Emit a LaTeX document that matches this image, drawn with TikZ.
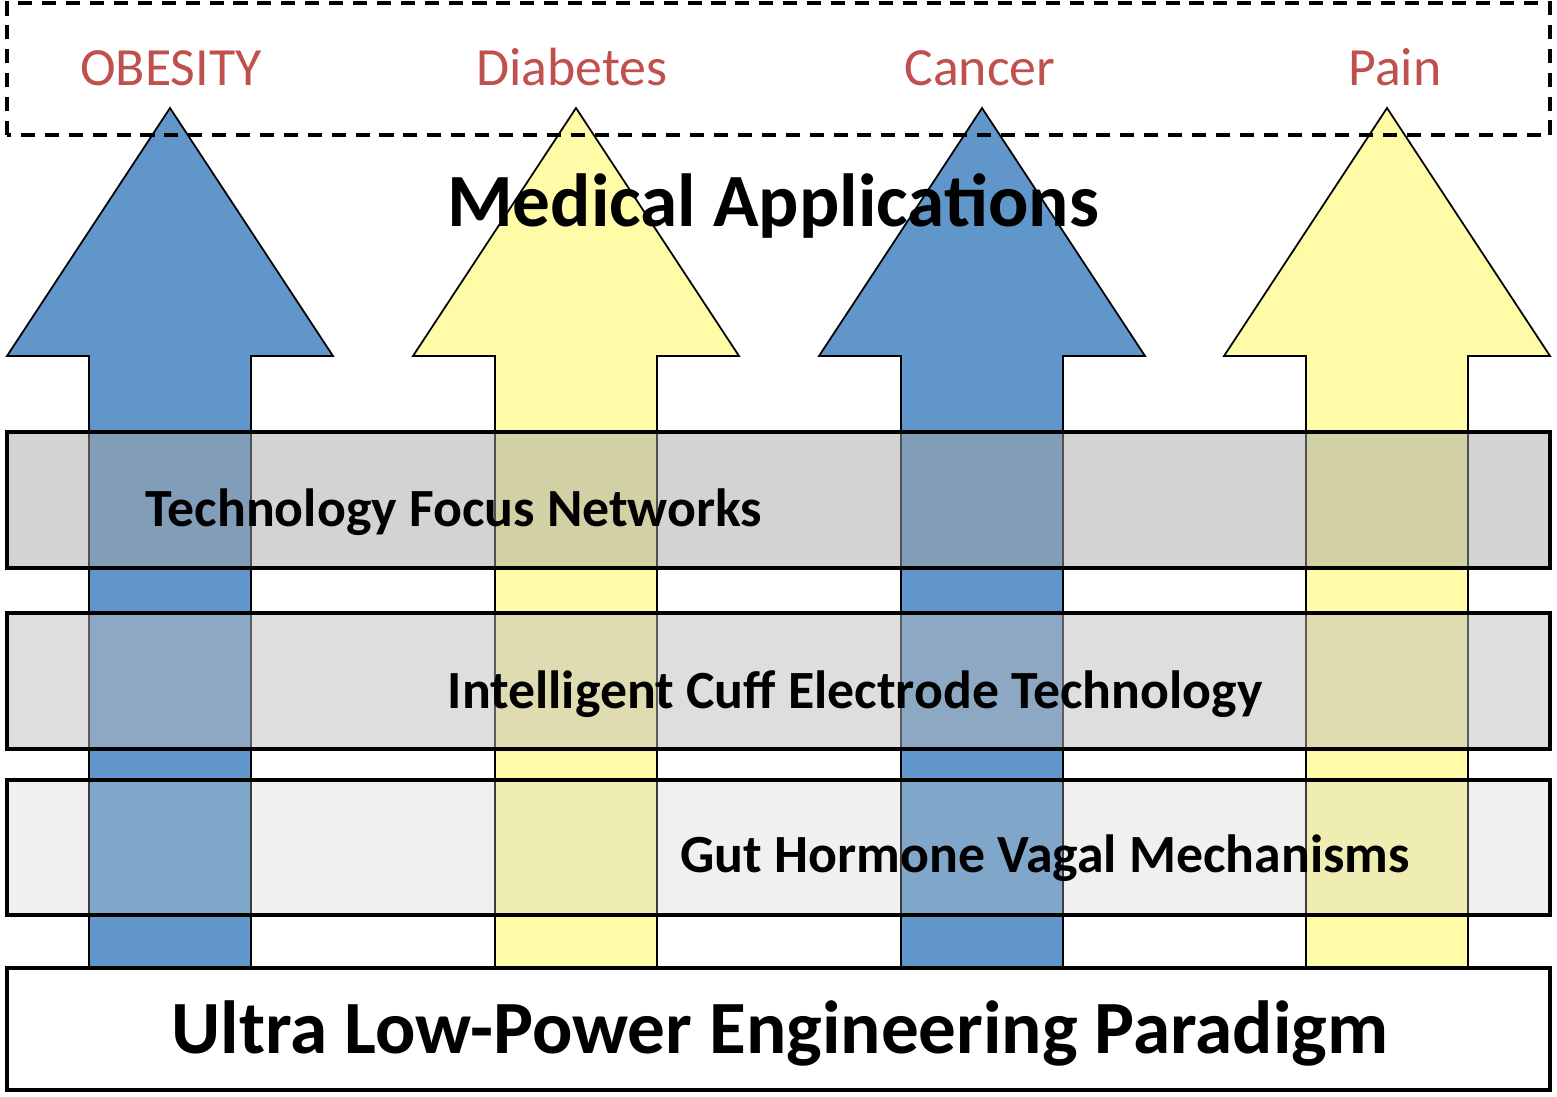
\documentclass[tikz,border=0pt]{standalone}
\usepackage{fontspec}
\setmainfont{Carlito}
\usetikzlibrary{positioning}

\definecolor{arrowblue}{HTML}{6096C9}
\definecolor{arrowyellow}{HTML}{FFFBA6}
\definecolor{labelred}{HTML}{C0504D}
\definecolor{bandone}{RGB}{165,165,165}
\definecolor{bandtwo}{RGB}{188,188,188}
\definecolor{bandthree}{RGB}{205,205,205}

\tikzset{
    uparrow/.style={draw=black, line width=0.5pt, line join=miter},
    band/.style={draw=black, line width=0.95pt},
    layertext/.style={font=\fontsize{15.3}{18}\selectfont\bfseries, anchor=base west, inner sep=0pt},
    bigtext/.style={font=\fontsize{21.4}{25}\selectfont\bfseries, anchor=base, inner sep=0pt},
    diseasetext/.style={font=\fontsize{15.3}{18}\selectfont, text=labelred, anchor=base, inner sep=0pt}
}

\begin{document}
\begin{tikzpicture}[x=1cm, y=1cm]
    \useasboundingbox (0,0) rectangle (15.57,10.96);

    % the four arrows
    \foreach \cx/\col in {1.70/arrowblue, 5.76/arrowyellow, 9.82/arrowblue, 13.87/arrowyellow}
        \filldraw[uparrow, fill=\col]
            (\cx-0.81,1.28) -- (\cx-0.81,7.40) -- (\cx-1.63,7.40) -- (\cx,9.88)
            -- (\cx+1.63,7.40) -- (\cx+0.81,7.40) -- (\cx+0.81,1.28) -- cycle;

    % layers
    \filldraw[band, fill=bandone, fill opacity=0.49] (0.07,5.28) rectangle (15.50,6.64);
    \filldraw[band, fill=bandtwo, fill opacity=0.49] (0.07,3.47) rectangle (15.50,4.83);
    \filldraw[band, fill=bandthree, fill opacity=0.30] (0.07,1.81) rectangle (15.50,3.16);
    \filldraw[band, fill=white] (0.07,0.06) rectangle (15.50,1.28);

    % applications box
    \draw[line width=1.1pt, dash pattern=on 4pt off 2.8pt] (0.07,9.61) rectangle (15.50,10.93);

    \node[diseasetext] (obesity) at (1.71,10.10) {OBESITY};
    \node[diseasetext] (diabetes) at (5.72,10.10) {Diabetes};
    \node[diseasetext] (cancer) at (9.80,10.10) {Cancer};
    \node[diseasetext] (pain) at (13.95,10.10) {Pain};

    \node[bigtext] (medical) at (7.73,8.70) {Medical Applications};

    \node[layertext] (tfn) at (1.45,5.70) {Technology Focus Networks};
    \node[layertext] (cuff) at (4.47,3.88) {Intelligent Cuff Electrode Technology};
    \node[layertext] (gut) at (6.80,2.24) {Gut Hormone Vagal Mechanisms};

    \node[bigtext] (ulp) at (7.80,0.43) {Ultra Low-Power Engineering Paradigm};
\end{tikzpicture}
\end{document}
